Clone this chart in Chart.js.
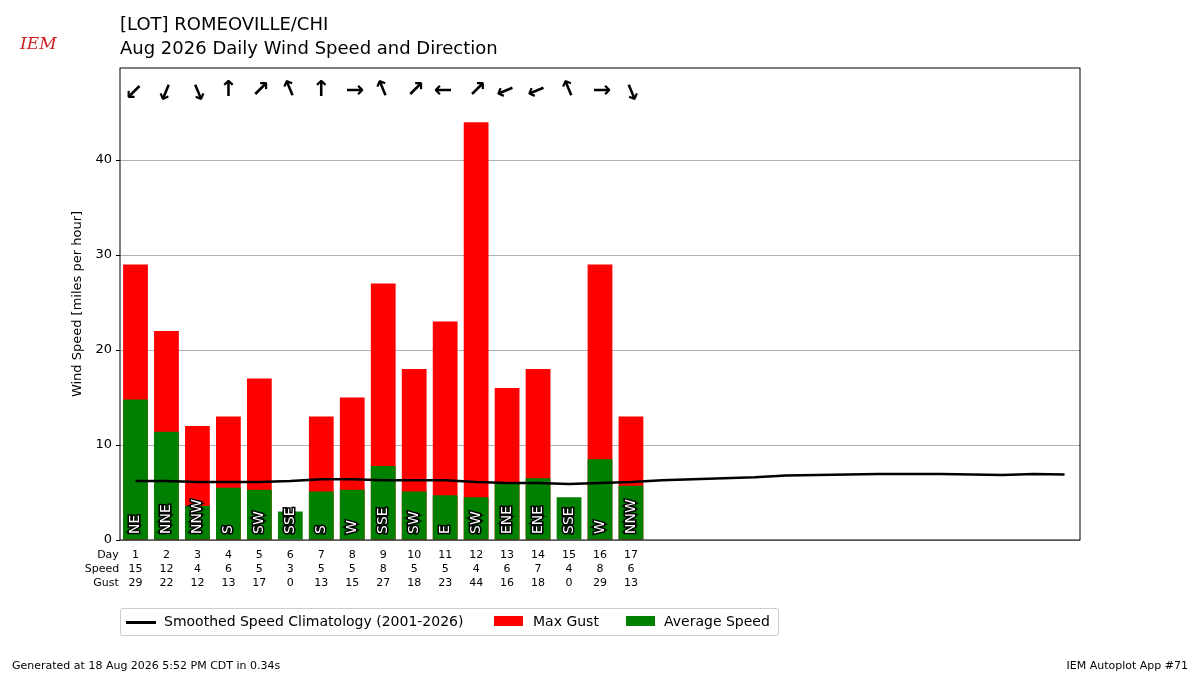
<!DOCTYPE html>
<html><head><meta charset="utf-8">
<script src="https://cdn.jsdelivr.net/npm/chart.js@4"></script>
<style>body{margin:0;background:#fff;font-family:"DejaVu Sans";}
#w{position:relative;width:1200px;height:675px;}
.t{position:absolute;white-space:nowrap;color:#000}
</style></head><body><div id="w"><canvas id="c" width="1200" height="675"></canvas>
<div class="t" style="left:120px;top:13px;font-size:18px">[LOT] ROMEOVILLE/CHI</div>
<div class="t" style="left:120px;top:37px;font-size:18px">Aug 2026 Daily Wind Speed and Direction</div>
<div class="t" style="left:20px;top:33px;font-size:17px;color:#d02020;font-style:italic;font-family:'DejaVu Serif'">IEM</div>
<div class="t" style="left:12px;top:659px;font-size:11px">Generated at 18 Aug 2026 5:52 PM CDT in 0.34s</div>
<div class="t" style="right:12px;top:659px;font-size:11px">IEM Autoplot App #71</div>
<div class="t" style="left:120px;top:608px;width:657px;height:26px;border:1px solid #ccc;border-radius:3px;font-size:14px">
<span style="position:absolute;left:5px;top:12px;width:30px;height:2.5px;background:#000"></span>
<span style="position:absolute;left:43px;top:4px">Smoothed Speed Climatology (2001-2026)</span>
<span style="position:absolute;left:373px;top:7px;width:29px;height:10px;background:#f00"></span>
<span style="position:absolute;left:412px;top:4px">Max Gust</span>
<span style="position:absolute;left:505px;top:7px;width:29px;height:10px;background:#008000"></span>
<span style="position:absolute;left:543px;top:4px">Average Speed</span>
</div>
</div>
<script>
const days=[];for(let i=1;i<=31;i++)days.push(String(i));
const avgSpeed=[14.8,11.4,3.6,5.5,5.3,3.0,5.1,5.3,7.8,5.1,4.7,4.5,6.0,6.5,4.5,8.5,5.7];
const speedLabel=[15,12,4,6,5,3,5,5,8,5,5,4,6,7,4,8,6];
const maxGust=[29,22,12,13,17,0,13,15,27,18,23,44,16,18,0,29,13];
const dirs=["NE","NNE","NNW","S","SW","SSE","S","W","SSE","SW","E","SW","ENE","ENE","SSE","W","NNW"];
const yTicks=[0,10,20,30,40];
const dirDeg={N:0,NNE:22.5,NE:45,ENE:67.5,E:90,ESE:112.5,SE:135,SSE:157.5,S:180,SSW:202.5,SW:225,WSW:247.5,W:270,WNW:292.5,NW:315,NNW:337.5};
const clim=[6.2,6.2,6.1,6.1,6.1,6.2,6.4,6.4,6.3,6.3,6.3,6.1,6.0,6.0,5.9,6.0,6.1,6.3,6.4,6.5,6.6,6.8,6.85,6.9,6.95,6.95,6.95,6.9,6.85,6.95,6.9];
const deco={id:'deco',afterDatasetsDraw(ch){
 const c=ch.ctx,a=ch.chartArea,x=ch.scales.x,y=ch.scales.y;
 c.save();
 c.strokeStyle='#000';c.lineWidth=1;c.strokeRect(a.left,a.top,a.right-a.left,a.bottom-a.top);
 c.font='11px "DejaVu Sans"';c.textAlign='center';c.textBaseline='middle';c.fillStyle='#000';
 c.fillText('Day',108,555);c.fillText('Speed',102,569);c.fillText('Gust',106,583);
 for(let i=0;i<dirs.length;i++){
  const px=x.getPixelForValue(i);
  c.font='11px "DejaVu Sans"';c.fillStyle='#000';
  c.fillText(days[i],px,555);c.fillText(speedLabel[i],px,569);c.fillText(maxGust[i],px,583);
  c.save();c.translate(px,90);c.rotate((dirDeg[dirs[i]]+180)*Math.PI/180);
  c.font='bold 22px "DejaVu Sans"';c.fillText('↑',0,0);c.restore();
  c.save();c.translate(px,534);c.rotate(-Math.PI/2);
  c.font='14px "DejaVu Sans"';c.textAlign='left';c.lineWidth=3;c.strokeStyle='#000';
  c.strokeText(dirs[i],0,0);c.fillStyle='#fff';c.fillText(dirs[i],0,0);c.restore();
 }
 c.restore();}};
new Chart(document.getElementById('c'),{
 data:{labels:days,datasets:[
  {type:'line',data:clim,borderColor:'#000',borderWidth:2.5,pointRadius:0,order:0},
  {type:'bar',data:avgSpeed,backgroundColor:'#008000',order:1,grouped:false,barPercentage:0.8,categoryPercentage:1},
  {type:'bar',data:maxGust,backgroundColor:'#ff0000',order:2,grouped:false,barPercentage:0.8,categoryPercentage:1}]},
 options:{responsive:false,animation:false,events:[],
  layout:{padding:{left:70,right:120,top:68,bottom:135}},
  plugins:{legend:{display:false},tooltip:{enabled:false}},
  scales:{
   x:{offset:true,grid:{display:false},ticks:{display:false},border:{display:false},afterFit(s){s.height=0;}},
   y:{min:0,max:49.7,afterBuildTicks(s){s.ticks=yTicks.map(v=>({value:v}));},
      ticks:{color:'#000',padding:4,font:{size:13,family:'DejaVu Sans'}},
      grid:{color:'#b0b0b0',drawTicks:true,tickColor:'#000',tickLength:4},border:{display:false},
      title:{display:true,text:'Wind Speed [miles per hour]',color:'#000',padding:0,font:{size:13,family:'DejaVu Sans'}},
      afterFit(s){s.width=50;}}}},
 plugins:[deco]});
</script></body></html>
